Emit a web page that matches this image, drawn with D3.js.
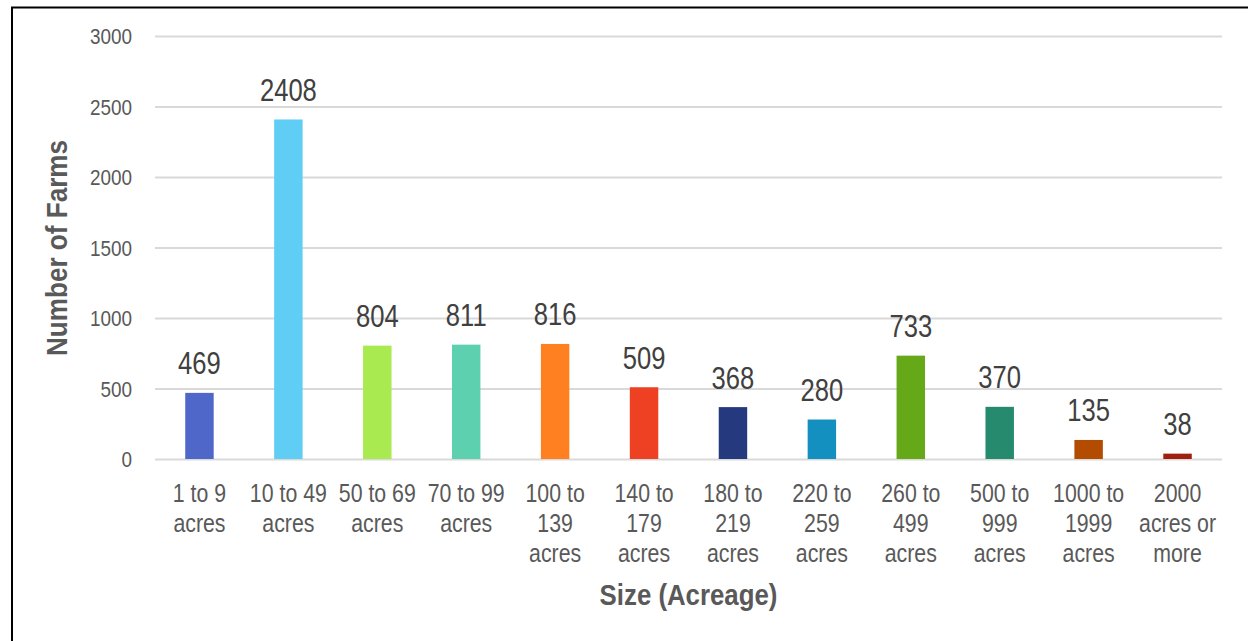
<!DOCTYPE html>
<html>
<head>
<meta charset="utf-8">
<script src="https://cdn.jsdelivr.net/npm/d3@7"></script>
<style>
  html, body { margin: 0; padding: 0; background: #fff; }
  svg { display: block; }
  text { font-family: "Liberation Sans Narrow", "Arial Narrow", "Liberation Sans", Arial, sans-serif; }
</style>
</head>
<body>
<svg id="chart" width="1248" height="641"></svg>
<script>
// Farm counts by acreage class
const categories = [
  ["1 to 9", "acres"],
  ["10 to 49", "acres"],
  ["50 to 69", "acres"],
  ["70 to 99", "acres"],
  ["100 to", "139", "acres"],
  ["140 to", "179", "acres"],
  ["180 to", "219", "acres"],
  ["220 to", "259", "acres"],
  ["260 to", "499", "acres"],
  ["500 to", "999", "acres"],
  ["1000 to", "1999", "acres"],
  ["2000", "acres or", "more"]
];
const farms = [469, 2408, 804, 811, 816, 509, 368, 280, 733, 370, 135, 38];
const barColors = ["#4F67C8", "#5FCDF4", "#A8EA50", "#5DD0B0", "#FF8020", "#EE4023",
                   "#253A7E", "#1390C0", "#65A818", "#268A6E", "#B34C00", "#A02010"];
const yTicks = [0, 500, 1000, 1500, 2000, 2500, 3000];

const svg = d3.select("#chart");
const plot = { left: 155, right: 1222, top: 36, bottom: 459 };

// Condensed text: horizontal squeeze around the anchor point
function narrowText(sel, s) {
  return sel.attr("transform", function () {
    const t = d3.select(this);
    return `translate(${t.attr("data-x")},${t.attr("data-y")}) scale(${s},1)`;
  });
}

// Outer frame (right and bottom edges fall outside the view)
svg.append("path")
  .attr("d", "M12,1000 L12,7.5 L1300,7.5")
  .attr("fill", "none").attr("stroke", "#000").attr("stroke-width", 2);

const x = d3.scaleBand()
  .domain(d3.range(categories.length))
  .range([plot.left, plot.right])
  .paddingInner(0.68).paddingOuter(0.34);

const y = d3.scaleLinear().domain([0, 3000]).range([plot.bottom, plot.top]);

// Horizontal gridlines
const yAxis = d3.axisLeft(y).tickValues(yTicks)
  .tickSize(-(plot.right - plot.left)).tickFormat("");
const gy = svg.append("g").attr("transform", `translate(${plot.left},0)`).call(yAxis);
gy.select(".domain").remove();
gy.selectAll(".tick line").attr("stroke", "#D9D9D9").attr("stroke-width", 2);

// Y tick labels
svg.append("g").selectAll("text").data(yTicks).join("text")
  .attr("data-x", 132).attr("data-y", d => y(d) + 8)
  .attr("text-anchor", "end")
  .attr("fill", "#595959")
  .attr("font-size", 22)
  .text(d => d)
  .call(narrowText, 0.86);

// Bars
svg.append("g").selectAll("rect").data(farms).join("rect")
  .attr("x", (d, i) => x(i))
  .attr("width", x.bandwidth())
  .attr("y", d => y(d))
  .attr("height", d => y(0) - y(d))
  .attr("fill", (d, i) => barColors[i]);

// Value labels
svg.append("g").selectAll("text").data(farms).join("text")
  .attr("data-x", (d, i) => x(i) + x.bandwidth() / 2)
  .attr("data-y", d => y(d) - 18.5)
  .attr("text-anchor", "middle")
  .attr("fill", "#404040")
  .attr("font-size", 30.5)
  .text(d => d)
  .call(narrowText, 0.84);

// Category labels (multi-line)
const cat = svg.append("g").selectAll("g").data(categories).join("g")
  .attr("transform", (d, i) => `translate(${x(i) + x.bandwidth() / 2},0)`);
cat.selectAll("text").data(d => d).join("text")
  .attr("data-x", 0)
  .attr("data-y", (d, j) => 502 + j * 30)
  .attr("text-anchor", "middle")
  .attr("fill", "#595959")
  .attr("font-size", 26)
  .text(d => d)
  .call(narrowText, 0.82);

// Axis titles
svg.append("text")
  .attr("transform", `translate(${(plot.left + plot.right) / 2},605) scale(0.89,1)`)
  .attr("text-anchor", "middle").attr("fill", "#595959")
  .attr("font-size", 29).attr("font-weight", "bold")
  .text("Size (Acreage)");

svg.append("text")
  .attr("transform", `translate(67,248) rotate(-90) scale(0.9,1)`)
  .attr("text-anchor", "middle").attr("fill", "#595959")
  .attr("font-size", 29).attr("font-weight", "bold")
  .text("Number of Farms");
</script>
</body>
</html>
